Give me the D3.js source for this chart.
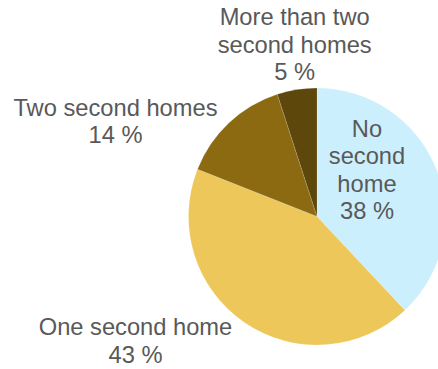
<!DOCTYPE html>
<html>
<head>
<meta charset="utf-8">
<script src="https://cdn.jsdelivr.net/npm/d3@7/dist/d3.min.js"></script>
<style>
  html, body { margin: 0; padding: 0; background: #ffffff; overflow: hidden; }
  svg { display: block; }
  text { font-family: "Liberation Sans", Arial, sans-serif; fill: #595959; }
</style>
</head>
<body>
<svg id="chart" width="438" height="369"></svg>
<script>
// Second homes owned: share of respondents (%)
const categories = ["No second home", "One second home", "Two second homes", "More than two second homes"];
const shares = [38, 43, 14, 5];
const sliceColors = ["#CCEFFD", "#EEC75A", "#8C6A12", "#5E470A"];

// Label lines per slice (as wrapped in the chart)
const labelLines = [
  ["No", "second", "home", "38 %"],
  ["One second home", "43 %"],
  ["Two second homes", "14 %"],
  ["More than two", "second homes", "5 %"]
];
// Label anchor points (centre x, first baseline y)
const labelAnchors = [
  [367, 136.5],
  [135.5, 335],
  [115.5, 115.5],
  [294.7, 25]
];

const svg = d3.select("#chart");
const cx = 317, cy = 216.5, radius = 128.5;
const fontSize = 23.7, lineHeight = 27.5;

const data = categories.map((c, i) => ({ name: c, value: shares[i], color: sliceColors[i], lines: labelLines[i], anchor: labelAnchors[i] }));

const pie = d3.pie().value(d => d.value).sort(null);
const arc = d3.arc().innerRadius(0).outerRadius(radius);

const g = svg.append("g").attr("transform", `translate(${cx},${cy})`);
g.selectAll("path.slice")
  .data(pie(data))
  .join("path")
  .attr("class", "slice")
  .attr("d", arc)
  .attr("fill", d => d.data.color)
  .attr("stroke", "rgba(255,255,255,0.25)")
  .attr("stroke-width", 0.6);

// Slice labels
const labels = svg.selectAll("text.label")
  .data(data)
  .join("text")
  .attr("class", "label")
  .attr("text-anchor", "middle")
  .attr("font-size", fontSize);

labels.each(function(d) {
  const t = d3.select(this);
  d.lines.forEach((line, k) => {
    t.append("tspan")
      .attr("x", d.anchor[0])
      .attr("y", d.anchor[1] + k * lineHeight)
      .text(line);
  });
});
</script>
</body>
</html>
